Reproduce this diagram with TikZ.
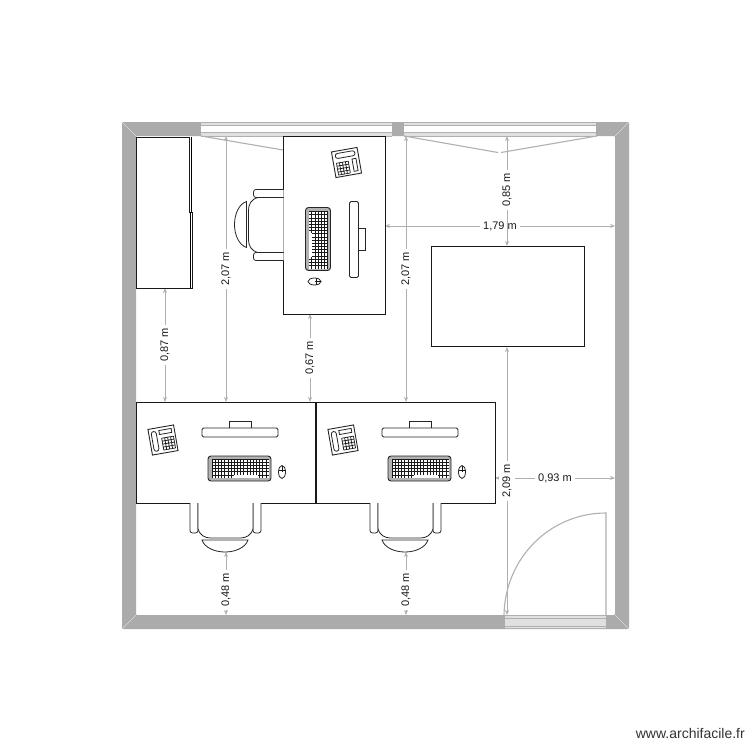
\documentclass[tikz,border=0pt]{standalone}
\usepackage{fontspec}
\setmainfont{Liberation Sans}
\usetikzlibrary{arrows.meta}
\definecolor{wallgray}{HTML}{ABABAB}
\definecolor{linegray}{HTML}{B0B0B0}
\definecolor{sillgray}{HTML}{E0E0E0}
\tikzset{
  x=1pt,y=-1pt,
  obj/.style={draw=black!90,line width=0.9pt,fill=white},
  thin obj/.style={draw=black!85,line width=0.8pt,fill=white},
  fine/.style={draw=black!90,line width=0.6pt},
  gline/.style={draw=linegray,line width=1.1pt},
  dimline/.style={draw=linegray,line width=1pt,{Stealth[length=5pt,width=4pt]}-{Stealth[length=5pt,width=4pt]}},
  dimlabel/.style={font=\fontsize{11}{12}\selectfont,fill=white,inner sep=3pt,text=black!90},
}
\newcommand{\dimV}[5]{%
  \draw[dimline] (#1,#2) -- (#1,#3);
  \node[dimlabel,rotate=90] (#5) at (#1,#4) {#5};}
\newcommand{\dimH}[5]{%
  \draw[dimline] (#2,#1) -- (#3,#1);
  \node[dimlabel] (#5) at (#4,#1) {#5};}
\newcommand{\workstation}[3]{%
  \begin{scope}[shift={(#1,#2)},rotate=#3]
    % chair
    \draw[thin obj,rounded corners=2.5pt] (-35.5,50.5) -- (-35.5,80.5) -- (-27.5,80.5) -- (-27.5,50.5);
    \draw[thin obj,rounded corners=2.5pt] (27.5,50.5) -- (27.5,80.5) -- (35.5,80.5) -- (35.5,50.5);
    \draw[thin obj] (-27.5,50.5) -- (-27.5,76) .. controls (-26,83) and (-20,85.5) .. (-15,85.5) -- (15,85.5) .. controls (20,85.5) and (26,83) .. (27.5,76) -- (27.5,50.5);
    \draw[thin obj] (-23.5,87.5) -- (22.5,87.5) .. controls (20,95) and (10,99.5) .. (-0.5,99.5) .. controls (-11,99.5) and (-21,95) .. (-23.5,87.5) -- cycle;
    % monitor
    \draw[thin obj] (3.5,-31.5) rectangle (25.5,-24.5);
    \draw[thin obj,rounded corners=1.5pt] (-23.5,-24.5) rectangle (52.5,-15.5);
    % keyboard
    \draw[thin obj,fill=black!30,rounded corners=3pt,line width=0.9pt] (-17.5,3.5) rectangle (45.5,28.5);
    \fill[white] (-13.5,6.5) rectangle (43.5,25.5);
    \draw[fine,xstep=3.17pt,ystep=3.17pt,shift={(-13.5,6.5)}] (0,0) grid (57,19);
    \fill[white] (8,22.2) rectangle (32,25.2);
    % mouse
    \draw[thin obj] (56.5,19.5) ellipse [x radius=3.5,y radius=6.5];
    \draw[fine] (56.5,13) -- (56.5,19) (53,18) -- (60,18);
    % phone
    \begin{scope}[shift={(-62.5,-12.5)},rotate=10]
      \draw[thin obj,line width=0.9pt] (-13,-13) rectangle (13,13);
      \draw[thin obj,rounded corners=2.5pt] (-10.5,-10) rectangle (-5.5,10);
      \draw[thin obj] (-2.5,-10) rectangle (10,-6);
      \draw[fine,line width=0.7pt,xstep=3pt,ystep=3pt,shift={(-1,-2)}] (0,0) grid (12,12);
    \end{scope}
  \end{scope}}
\begin{document}
\begin{tikzpicture}[x=1pt,y=-1pt]
\useasboundingbox (0,0) rectangle (750,750);
\fill[white] (0,0) rectangle (750,750);
% walls
\fill[wallgray,even odd rule,rounded corners=0.8pt] (122,122) rectangle (629,629) (136,136) rectangle (615,615);
\draw[draw=black!15,line width=0.5pt] (122,122) -- (136,136) (629,122) -- (615,136) (122,629) -- (136,615) (629,629) -- (615,615);
% windows
\foreach \xa/\xb in {201/392,404/596}{
  \fill[sillgray] (\xa,122) rectangle (\xb,136);
  \fill[white] (\xa,125) rectangle (\xb,132.5);
  \draw[draw=linegray,line width=0.8pt] (\xa,125) -- (\xb,125) (\xa,132.5) -- (\xb,132.5) (\xa,136) -- (\xb,136) (\xa,122) -- (\xb,122);
}
% window leaves
\draw[gline] (201,136) -- (283,150);
\draw[gline] (404,136) -- (498,152.5);
\draw[gline] (597,136) -- (501,152.5);
% door
\fill[sillgray] (505,615) rectangle (606,629);
\draw[draw=linegray,line width=0.8pt] (505,615) -- (606,615) (505,618.5) -- (606,618.5) (505,626) -- (606,626) (505,628.5) -- (606,628.5);
\draw[gline] (606,615) -- (606,513) .. controls (550,513) and (505,558) .. (504,615);
% dimensions
\dimH{226}{385}{615}{500}{1,79 m}
\dimH{478}{495}{615}{555}{0,93 m}
\dimV{226}{136}{402}{269}{2,07 m}
\dimV{406}{136}{402}{269}{2,07 m}
\dimV{507}{136}{246}{190}{0,85 m}
\dimV{165}{288}{402}{345}{0,87 m}
\dimV{310}{314}{402}{358}{0,67 m}
\dimV{226}{552}{615}{590}{0,48 m}
\dimV{406}{552}{615}{590}{0,48 m}
\dimV{507}{347}{615}{481}{2,09 m}
% wardrobe
\draw[obj] (136,137) -- (189,137) -- (189,212) -- (192.5,212) -- (192.5,288.5) -- (136,288.5) -- cycle;
\draw[draw=black,line width=0.6pt] (191,137) -- (191,212) (190.5,212) -- (190.5,288);
% table
\draw[obj] (431.5,246) rectangle (584,346.5);
% desks
\draw[obj] (283,136.5) rectangle (385,314);
\draw[obj] (136.5,402) rectangle (315,503);
\draw[obj] (316.5,402) rectangle (495,503);
\workstation{334}{225}{-90}
\workstation{225.5}{452.5}{0}
\workstation{405.5}{452.5}{0}
% watermark
\node[font=\fontsize{14}{15}\selectfont,text=black!80,inner sep=0pt,anchor=east] (credit) at (745,733) {www.archifacile.fr};
\end{tikzpicture}
\end{document}
